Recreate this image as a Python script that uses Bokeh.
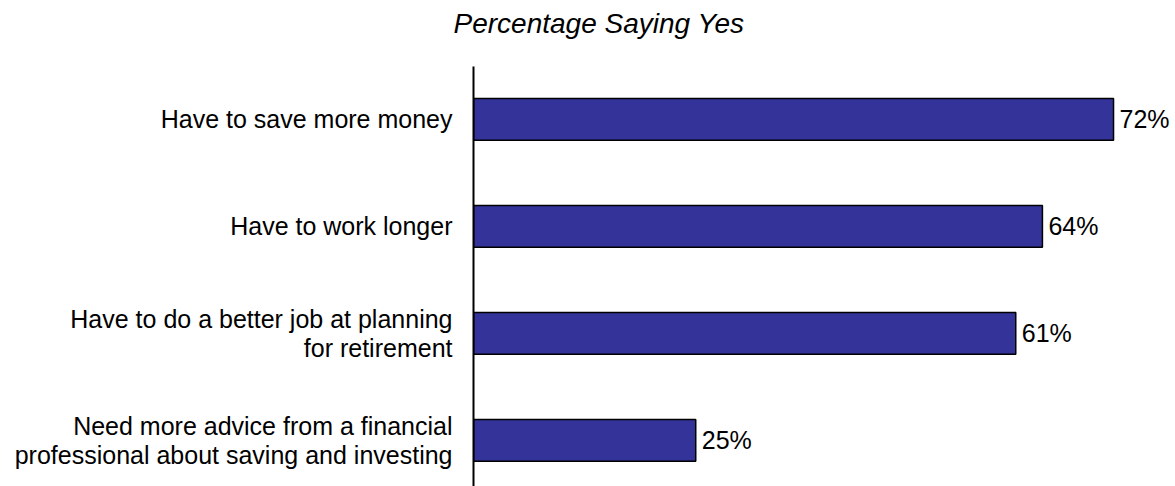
from bokeh.plotting import figure
from bokeh.models import Range1d, FixedTicker, Title
from bokeh.embed import file_html
from bokeh.resources import INLINE
from bokeh.core.properties import value

title_text = "Percentage Saying Yes"
categories = [
    "Have to save more money",
    "Have to work longer",
    "Have to do a better job at planning\nfor retirement",
    "Need more advice from a financial\nprofessional about saving and investing",
]
values = [72, 64, 61, 25]
value_labels = [f"{v}%" for v in values]
positions = list(range(len(categories)))

FONT = "Liberation Sans"

p = figure(
    width=1175, height=486,
    output_backend="svg", toolbar_location=None,
    x_range=Range1d(0, 78.97),
    y_range=Range1d(3.43, -0.495),
    min_border_left=473, min_border_right=0,
    min_border_top=66, min_border_bottom=0,
)

p.hbar(y=positions, right=values, left=0, height=0.39,
       fill_color="#333399", line_color="black", line_width=1.5)

p.text(x=values, y=positions, text=value_labels, x_offset=6,
       text_baseline="middle", text_align="left",
       text_font=value(FONT), text_font_size="25px", text_color="black")

p.xaxis.visible = False
p.xgrid.visible = False
p.ygrid.visible = False
p.outline_line_color = None

ax = p.yaxis[0]
ax.ticker = FixedTicker(ticks=positions)
ax.major_label_overrides = {i: c for i, c in zip(positions, categories)}
ax.major_tick_line_color = None
ax.minor_tick_line_color = None
ax.major_tick_out = 0
ax.major_tick_in = 0
ax.axis_line_color = "black"
ax.axis_line_width = 2
ax.major_label_standoff = 21
ax.major_label_text_font = FONT
ax.major_label_text_font_size = "25px"
ax.major_label_text_color = "black"
ax.major_label_text_line_height = 1.05
ax.major_label_text_align = "right"

# spacer panel between the title and the frame
spacer = Title(text=" ", text_font=FONT, text_font_size="10px", standoff=12)
p.add_layout(spacer, "above")

p.title.text = title_text
p.title.text_font = FONT
p.title.text_font_style = "italic"
p.title.text_font_size = "28px"
p.title.text_color = "black"
p.title.align = "left"
p.title.offset = -20
p.title.standoff = 6

open("out.html", "w").write(file_html(p, INLINE))
